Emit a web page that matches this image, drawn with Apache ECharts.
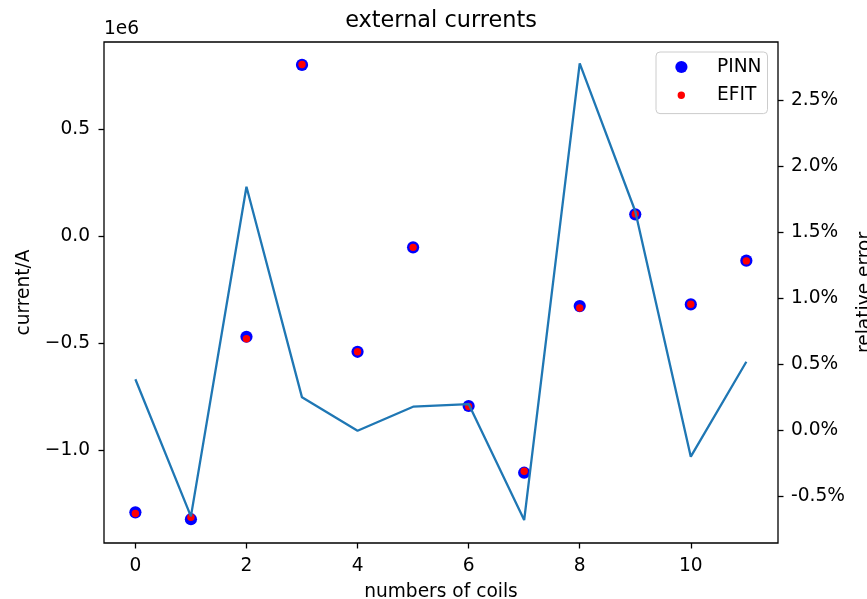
<!DOCTYPE html>
<html><head><meta charset="utf-8">
<script src="https://cdn.jsdelivr.net/npm/echarts@6/dist/echarts.min.js"></script>
<style>html,body{margin:0;padding:0;background:#fff}#c{width:867px;height:599px}</style>
</head><body><div id="c"></div>
<script>
// ---- data ----
const coils = [0, 1, 2, 3, 4, 5, 6, 7, 8, 9, 10, 11];
const pinn = [-1289000, -1321000, -470000, 798000, -540000, -53000, -793000, -1104000, -327000, 101000, -319000, -115000];
const efit = [-1294000, -1312000, -479000, 800000, -540000, -53000, -795000, -1097000, -336000, 103000, -318000, -116000];
const relErr = [0.385, -0.655, 1.846, 0.248, -0.005, 0.177, 0.197, -0.683, 2.782, 1.66, -0.202, 0.518];
const xTicks = [0, 2, 4, 6, 8, 10];
const leftTicks = [-1000000, -500000, 0, 500000];
const rightTicks = [-0.5, 0, 0.5, 1.0, 1.5, 2.0, 2.5];

const FONT = '"DejaVu Sans", sans-serif';
const FS = 18.6;
const chart = echarts.init(document.getElementById('c'), null, {renderer: 'canvas'});
const pinnPts = coils.map((c, i) => [c, pinn[i]]);
const efitPts = coils.map((c, i) => [c, efit[i]]);
const errPts = coils.map((c, i) => [c, relErr[i]]);

chart.setOption({
  animation: false,
  backgroundColor: '#fff',
  textStyle: {fontFamily: FONT},
  grid: {left: 104, right: 89, top: 42, bottom: 56, containLabel: false, outerBoundsMode: 'none',
    show: true, borderColor: '#000', borderWidth: 1.3, backgroundColor: 'transparent'},
  graphic: [
    {type: 'text', x: 441, y: 21, style: {text: 'external currents', font: '22.4px ' + FONT, fill: '#000', align: 'center', verticalAlign: 'middle', textAlign: 'center', textVerticalAlign: 'middle'}},
    {type: 'text', x: 104, y: 29.5, style: {text: '1e6', font: FS + 'px ' + FONT, fill: '#000', align: 'left', verticalAlign: 'middle', textAlign: 'left', textVerticalAlign: 'middle'}}
  ],
  legend: {
    orient: 'vertical', left: 656, top: 52,
    padding: [5.5, 6, 8.8, 2],
    itemWidth: 54, itemHeight: 19, itemGap: 9.3,
    backgroundColor: 'rgba(255,255,255,0.8)', borderColor: '#cccccc', borderWidth: 1, borderRadius: 4,
    textStyle: {fontSize: FS, color: '#000', fontFamily: FONT, lineHeight: 19},
    data: [
      {name: 'PINN', icon: 'path://M0,0M54,19M17.3,9.5A6.1,6.1 0 1 1 29.5,9.5A6.1,6.1 0 1 1 17.3,9.5Z'},
      {name: 'EFIT', icon: 'path://M0,0M54,19M19.6,9.5A3.7,3.7 0 1 1 27,9.5A3.7,3.7 0 1 1 19.6,9.5Z'}
    ]
  },
  xAxis: {
    type: 'value', min: -0.565, max: 11.57, position: 'bottom',
    name: 'numbers of coils', nameLocation: 'middle', nameGap: 40,
    nameTextStyle: {fontSize: FS, color: '#000', fontFamily: FONT},
    axisLine: {show: false, onZero: false},
    axisTick: {show: true, length: 5.5, lineStyle: {color: '#000', width: 1.3}, customValues: xTicks},
    axisLabel: {fontSize: FS, color: '#000', margin: 14, customValues: xTicks, formatter: v => String(v)},
    splitLine: {show: false}
  },
  yAxis: [
    {
      type: 'value', position: 'left', min: -1431900, max: 904900,
      name: 'current/A', nameLocation: 'middle', nameGap: 67,
      nameTextStyle: {fontSize: FS, color: '#000', fontFamily: FONT},
      axisLine: {show: false, onZero: false},
      axisTick: {show: true, length: 5.5, lineStyle: {color: '#000', width: 1.3}, customValues: leftTicks},
      axisLabel: {fontSize: FS, color: '#000', margin: 14, customValues: leftTicks,
        formatter: v => (v / 1e6).toFixed(1).replace('-', '\u2212')},
      splitLine: {show: false}
    },
    {
      type: 'value', position: 'right', min: -0.857, max: 2.944,
      name: 'relative error', nameLocation: 'middle', nameGap: 73,
      nameTextStyle: {fontSize: FS, color: '#000', fontFamily: FONT},
      axisLine: {show: false, onZero: false},
      axisTick: {show: true, length: 5.5, lineStyle: {color: '#000', width: 1.3}, customValues: rightTicks},
      axisLabel: {fontSize: FS, color: '#000', margin: 13, customValues: rightTicks,
        formatter: v => v.toFixed(1) + '%'},
      splitLine: {show: false}
    }
  ],
  series: [
    {name: 'PINN', type: 'scatter', yAxisIndex: 0, data: pinnPts, symbol: 'circle', symbolSize: 12.2, itemStyle: {color: '#0000ff', opacity: 1}, z: 2},
    {name: 'EFIT', type: 'scatter', yAxisIndex: 0, data: efitPts, symbol: 'circle', symbolSize: 7.4, itemStyle: {color: '#ff0000', opacity: 1}, z: 3},
    {name: 'relative error', type: 'line', yAxisIndex: 1, data: errPts, showSymbol: false, symbol: 'none',
      lineStyle: {color: '#1f77b4', width: 2.3}, itemStyle: {color: '#1f77b4'}, z: 4}
  ]
});
</script>
</body></html>
